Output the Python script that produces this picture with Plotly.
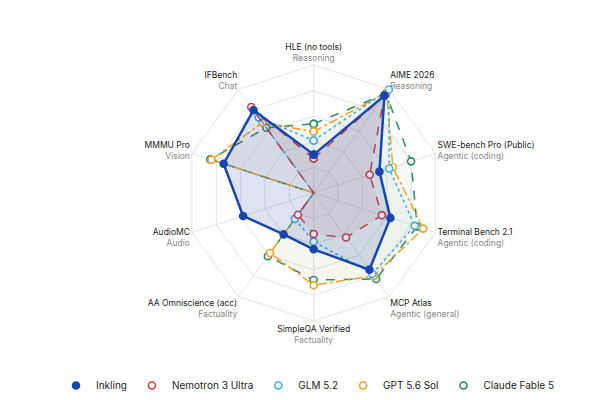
import plotly.graph_objects as go

categories = ["HLE (no tools)", "AIME 2026", "SWE-bench Pro (Public)", "Terminal Bench 2.1",
              "MCP Atlas", "SimpleQA Verified", "AA Omniscience (acc)", "AudioMC", "MMMU Pro", "IFBench"]
subtitles = ["Reasoning", "Reasoning", "Agentic (coding)", "Agentic (coding)", "Agentic (general)",
             "Factuality", "Factuality", "Audio", "Vision", "Chat"]
inkling = [30, 94, 54, 63, 74, 44, 40, 58, 74, 80]
nemotron = [27, 94, 46, 56, 43, 32, 21, 0, 0, 83]
glm = [41, 100, 62, 83, 78, 38, 25, 0, 0, 73]
gpt = [48, 97, 65, 90, 80, 72, 58, 0, 84, 68]
claude = [54, 96, 80, 85, 83, 68, 61, 0, 85, 63]

series = [
    ("Inkling", inkling, "#1846b0", "solid", 2.5, True, "rgba(24,70,176,0.15)"),
    ("Nemotron 3 Ultra", nemotron, "#cf3b3f", "dash", 1.5, False, "rgba(207,59,63,0.07)"),
    ("GLM 5.2", glm, "#3aaee0", "dot", 1.5, False, "rgba(58,174,224,0.04)"),
    ("GPT 5.6 Sol", gpt, "#eea225", "dashdot", 1.5, False, "rgba(238,162,37,0.05)"),
    ("Claude Fable 5", claude, "#2b8a68", "dash", 1.5, False, "rgba(43,138,104,0.04)"),
]

labels = [f"<span style='color:#222'>{c}</span><br><span style='color:#888'>{s}</span>"
          for c, s in zip(categories, subtitles)]

fig = go.Figure()
for name, vals, col, dash, w, filled, fillc in reversed(series):
    fig.add_trace(go.Scatterpolar(
        r=vals + vals[:1], theta=labels + labels[:1], name=name, mode="lines+markers",
        line=dict(color=col, dash=dash, width=w), fill="toself", fillcolor=fillc, showlegend=False,
        marker=dict(size=7, color=col if filled else "white", line=dict(color=col, width=1.6)),
    ))
for name, vals, col, dash, w, filled, fillc in series:
    fig.add_trace(go.Scatterpolar(
        r=[None], theta=[labels[0]], name=name, mode="markers",
        marker=dict(size=7, color=col if filled else "white", line=dict(color=col, width=1.6)),
    ))

fig.update_layout(
    width=600, height=400, margin=dict(l=0, r=0, t=0, b=0),
    paper_bgcolor="white", font=dict(family="Inter", size=9, color="#222"),
    polar=dict(
        domain=dict(x=[0.296, 0.723], y=[0.2175, 0.8575]),
        gridshape="linear", bgcolor="white",
        radialaxis=dict(range=[0, 100], tickvals=[20, 40, 60, 80, 100], showticklabels=False,
                        showline=False, gridcolor="#e3e3e3", ticks=""),
        angularaxis=dict(direction="clockwise", rotation=90, gridcolor="#e3e3e3",
                         linecolor="#e3e3e3", tickfont=dict(size=8.5)),
    ),
    legend=dict(orientation="h", x=0.5, xanchor="center", y=0.02, yanchor="bottom",
                font=dict(size=10), itemwidth=30),
)
fig.write_html("out.html")
